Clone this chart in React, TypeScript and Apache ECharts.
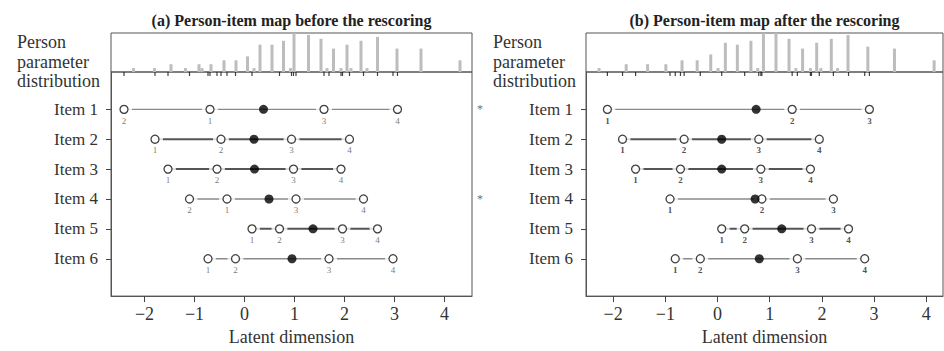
import React, { useEffect, useRef } from "react";
import * as echarts from "echarts";

// ---------- data ----------
const itemNames = ["Item 1", "Item 2", "Item 3", "Item 4", "Item 5", "Item 6"];
const xTicks = [-2, -1, 0, 1, 2, 3, 4];

// (a) before rescoring: thresholds listed by category number 1..n
const thresholdsA = [
  [-0.69, -2.41, 1.59, 3.06],
  [-1.79, -0.47, 0.94, 2.1],
  [-1.53, -0.55, 0.98, 1.93],
  [-0.35, -1.1, 1.03, 2.38],
  [0.15, 0.7, 1.96, 2.66],
  [-0.73, -0.18, 1.69, 2.97],
];
const locationA = [0.38, 0.19, 0.2, 0.49, 1.37, 0.95];
const flaggedA = [1, 4];
const histXA = [-2.22, -1.8, -1.47, -1.18, -0.91, -0.85, -0.67, -0.41, -0.17, 0.06, 0.19, 0.31, 0.55, 0.78, 0.92, 0.99, 1.28, 1.53, 1.65, 1.78, 1.93, 2.05, 2.13, 2.33, 2.45, 2.66, 3.05, 3.53, 4.31];
const histCountA = [1, 1, 2, 1, 2, 1, 2, 3, 3, 4, 1, 7, 7, 8, 1, 10, 9.5, 8.5, 1, 6, 1, 7, 1, 8, 1, 9, 6, 6, 3];

// (b) after rescoring
const thresholdsB = [
  [-2.11, 1.43, 2.91],
  [-1.82, -0.64, 0.79, 1.95],
  [-1.57, -0.71, 0.83, 1.78],
  [-0.91, 0.85, 2.22],
  [0.08, 0.52, 1.8, 2.51],
  [-0.81, -0.33, 1.53, 2.82],
];
const locationB = [0.74, 0.08, 0.08, 0.72, 1.23, 0.8];
const flaggedB: number[] = [];
const histXB = [-2.27, -1.75, -1.34, -0.99, -0.68, -0.39, -0.13, 0.01, 0.15, 0.38, 0.64, 0.77, 0.88, 1.12, 1.37, 1.5, 1.63, 1.78, 1.9, 1.98, 2.18, 2.3, 2.5, 2.88, 3.39, 4.15];
const histCountB = [1, 2, 2, 2, 3, 3, 4.5, 1, 7.5, 7, 8, 1, 10, 10, 8.5, 1, 6, 1, 7.5, 1, 8.5, 1, 9.5, 6.5, 6, 3];

// ---------- style ----------
const FONT = "Liberation Serif";
const strongLine = [false, true, true, false, true, false];

function fmtTick(v: number) {
  return v < 0 ? "\u2212" + Math.abs(v) : String(v);
}

function buildPanel(
  idx: number,
  left: number,
  width: number,
  xMin: number,
  xMax: number,
  thresholds: number[][],
  location: number[],
  flagged: number[],
  histX: number[],
  histCount: number[],
  boldLabels: boolean
) {
  const gH = idx * 2; // hist grid index
  const gI = idx * 2 + 1; // items grid index
  const grids = [
    { left, width, top: 33, height: 39, show: true, borderColor: "#555", borderWidth: 1 },
    { left, width, top: 72, height: 225, show: true, borderColor: "#555", borderWidth: 1 },
  ];
  const xAxes = [
    { type: "value", gridIndex: gH, min: xMin, max: xMax, show: false },
    {
      type: "value",
      gridIndex: gI,
      min: xMin,
      max: xMax,
      splitLine: { show: false },
      axisLine: { show: true, onZero: false, lineStyle: { color: "#555" } },
      axisTick: { show: true, customValues: xTicks, length: 6, lineStyle: { color: "#444" } },
      axisLabel: {
        customValues: xTicks,
        formatter: (v: number) => fmtTick(v),
        fontFamily: FONT,
        fontSize: 18,
        color: "#333",
        margin: 9,
      },
      name: "Latent dimension",
      nameLocation: "middle",
      nameGap: 31,
      nameTextStyle: { fontFamily: FONT, fontSize: 18, color: "#333" },
    },
  ];
  const yAxes = [
    { type: "value", gridIndex: gH, min: 0, max: 10, show: false },
    {
      type: "value",
      gridIndex: gI,
      inverse: true,
      min: -0.25,
      max: 7.25,
      splitLine: { show: false },
      axisLine: { show: true, onZero: false, lineStyle: { color: "#555" } },
      axisTick: { show: true, customValues: [1, 2, 3, 4, 5, 6], length: 5, lineStyle: { color: "#444" } },
      axisLabel: {
        customValues: [1, 2, 3, 4, 5, 6],
        formatter: (v: number) => itemNames[v - 1],
        fontFamily: FONT,
        fontSize: 17,
        color: "#333",
        margin: 13,
      },
    },
  ];
  const xa = idx * 2;
  const series: any[] = [];
  series.push({
    type: "bar",
    xAxisIndex: xa,
    yAxisIndex: xa,
    barWidth: 3,
    itemStyle: { color: "#bdbdbd" },
    data: histX.map((x, i) => [x, histCount[i]]),
    silent: true,
  });
  const allT: number[] = [];
  thresholds.forEach((t) => t.forEach((v) => allT.push(v)));
  series.push({
    type: "scatter",
    xAxisIndex: xa,
    yAxisIndex: xa,
    symbol: "rect",
    symbolSize: [1.2, 4],
    symbolOffset: [0, 2],
    itemStyle: { color: "#111" },
    clip: false,
    z: 6,
    data: allT.map((v) => [v, 0]),
    silent: true,
  });
  thresholds.forEach((t, i) => {
    const k = i + 1;
    const lo = Math.min(...t, location[i]);
    const hi = Math.max(...t, location[i]);
    series.push({
      type: "line",
      xAxisIndex: xa + 1,
      yAxisIndex: xa + 1,
      showSymbol: false,
      symbol: "none",
      lineStyle: strongLine[i] ? { color: "#555", width: 2 } : { color: "#8a8a8a", width: 1.4 },
      data: [
        [lo, k],
        [hi, k],
      ],
      z: 2,
      silent: true,
    });
  });
  const gapData: any[] = [];
  const circData: any[] = [];
  thresholds.forEach((t, i) => {
    t.forEach((v, c) => {
      gapData.push([v, i + 1]);
      circData.push({ value: [v, i + 1], name: String(c + 1) });
    });
  });
  series.push({
    type: "scatter",
    xAxisIndex: xa + 1,
    yAxisIndex: xa + 1,
    symbolSize: 16,
    itemStyle: { color: "#fff" },
    data: gapData,
    z: 3,
    silent: true,
  });
  series.push({
    type: "scatter",
    xAxisIndex: xa + 1,
    yAxisIndex: xa + 1,
    symbolSize: 8,
    itemStyle: { color: "#fff", borderColor: "#111", borderWidth: 1.3 },
    label: {
      show: true,
      position: "bottom",
      distance: 2,
      formatter: "{b}",
      fontFamily: FONT,
      fontSize: 9,
      fontWeight: boldLabels ? "bold" : "normal",
      color: boldLabels ? "#222" : "#555",
    },
    data: circData,
    z: 4,
    silent: true,
  });
  series.push({
    type: "scatter",
    xAxisIndex: xa + 1,
    yAxisIndex: xa + 1,
    symbolSize: 9,
    itemStyle: { color: "#000" },
    data: location.map((v, i) => [v, i + 1]),
    z: 5,
    silent: true,
  });
  if (flagged.length) {
    series.push({
      type: "scatter",
      xAxisIndex: xa + 1,
      yAxisIndex: xa + 1,
      symbolSize: 0,
      clip: false,
      label: {
        show: true,
        position: "right",
        distance: 5,
        formatter: "*",
        fontFamily: FONT,
        fontSize: 12,
        color: "#444",
      },
      data: flagged.map((k) => [xMax, k]),
      z: 5,
      silent: true,
    });
  }
  return { grids, xAxes, yAxes, series };
}

export default function App() {
  const ref = useRef<HTMLDivElement>(null);
  useEffect(() => {
    if (!ref.current) return;
    const chart = echarts.init(ref.current, null, { renderer: "svg" });
    const pA = buildPanel(0, 111, 361, -2.67, 4.55, thresholdsA, locationA, flaggedA, histXA, histCountA, false);
    const pB = buildPanel(1, 586, 357, -2.52, 4.32, thresholdsB, locationB, flaggedB, histXB, histCountB, true);
    const sideText = (x: number) =>
      ["Person", "parameter", "distribution"].map((t, i) => ({
        type: "text",
        left: x,
        top: 33 + i * 19.5,
        style: { text: t, fontFamily: FONT, fontSize: 18, fill: "#333" },
      }));
    chart.setOption({
      animation: false,
      backgroundColor: "#fff",
      textStyle: { fontFamily: FONT },
      grid: [...pA.grids, ...pB.grids],
      xAxis: [...pA.xAxes, ...pB.xAxes],
      yAxis: [...pA.yAxes, ...pB.yAxes],
      series: [...pA.series, ...pB.series],
      graphic: [
        {
          type: "text",
          x: 291.5,
          y: 20,
          style: {
            text: "(a) Person-item map before the rescoring",
            fontFamily: FONT,
            fontSize: 16,
            fontWeight: "bold",
            fill: "#222",
            textAlign: "center",
            textVerticalAlign: "middle",
          },
        },
        {
          type: "text",
          x: 764.5,
          y: 20,
          style: {
            text: "(b) Person-item map after the rescoring",
            fontFamily: FONT,
            fontSize: 16,
            fontWeight: "bold",
            fill: "#222",
            textAlign: "center",
            textVerticalAlign: "middle",
          },
        },
        ...sideText(17),
        ...sideText(493),
      ],
    });
    return () => chart.dispose();
  }, []);
  return <div ref={ref} style={{ position: "fixed", left: 0, top: 0, width: 944, height: 351 }} />;
}
